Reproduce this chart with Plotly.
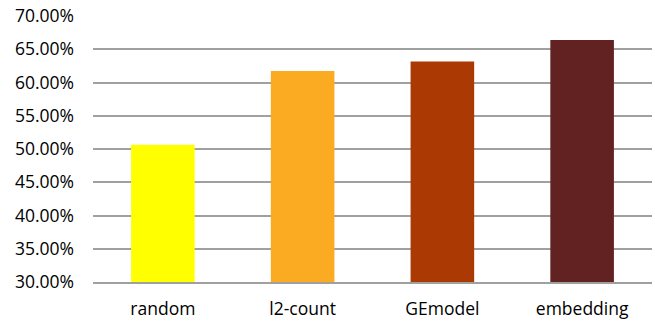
import plotly.graph_objects as go

categories = ["random", "l2-count", "GEmodel", "embedding"]
values = [0.5065, 0.6172, 0.6316, 0.6639]
colors = ["#FFFF00", "#FBAB21", "#AB3904", "#622222"]
y_ticks = [0.30, 0.35, 0.40, 0.45, 0.50, 0.55, 0.60, 0.65, 0.70]

fig = go.Figure(go.Bar(x=categories, y=values, marker=dict(color=colors, line=dict(width=0)), width=0.455))

fig.update_layout(
    width=655, height=323,
    margin=dict(l=93, r=3, t=15, b=40),
    plot_bgcolor="white", paper_bgcolor="white",
    font=dict(family="Open Sans", size=17.5, color="#000000"),
    showlegend=False,
)
fig.update_yaxes(
    range=[0.30, 0.70], tickvals=y_ticks, tickformat=".2%",
    showgrid=True, gridcolor="#A0A0A0", gridwidth=1.5,
    zeroline=False, showline=False, ticklabelstandoff=18,
)
fig.update_xaxes(showline=True, linecolor="#A0A0A0", linewidth=1.5, ticklabelstandoff=10)

fig.write_html("out.html")
